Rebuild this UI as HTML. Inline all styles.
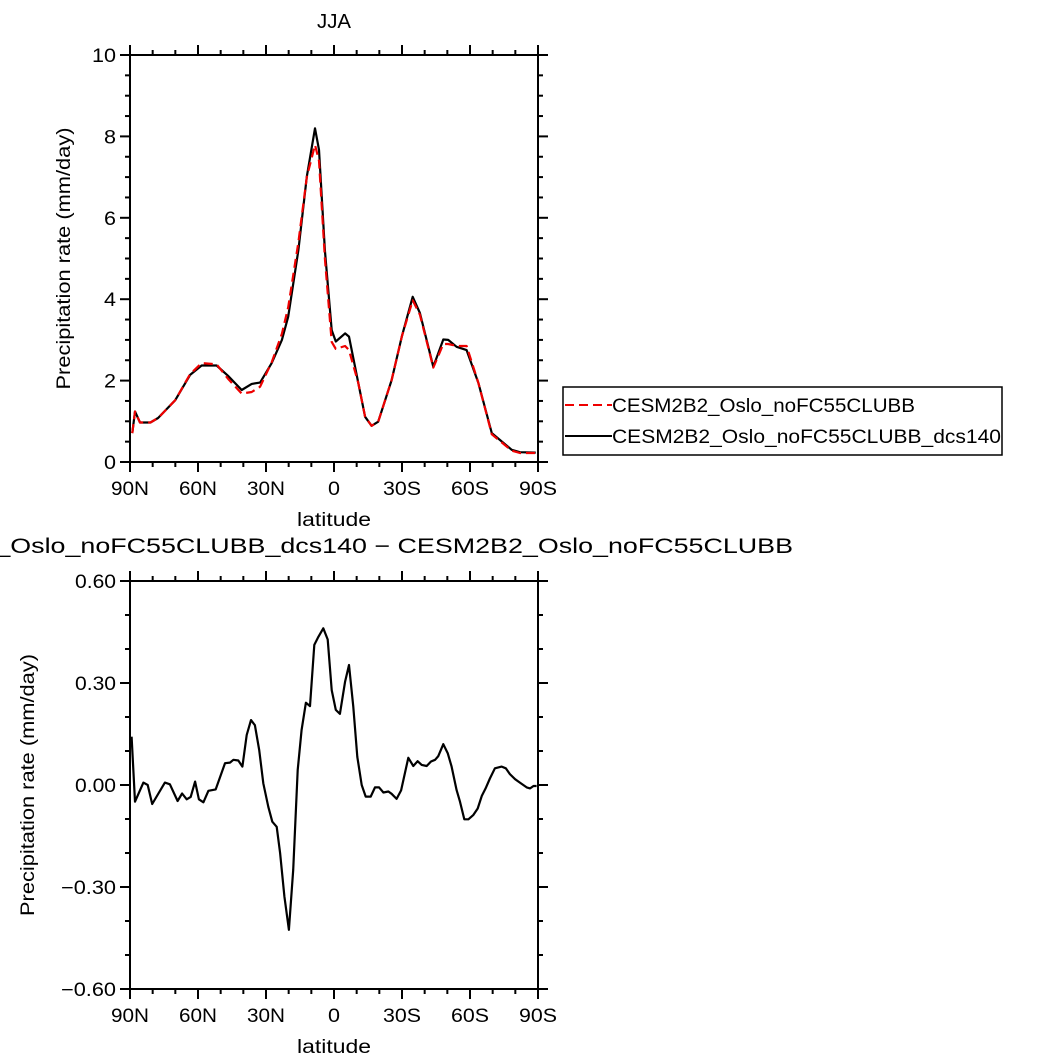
<!DOCTYPE html>
<html><head><meta charset="utf-8"><style>
html,body{margin:0;padding:0;background:#fff;}
svg{display:block;font-family:"Liberation Sans",sans-serif;}
</style></head><body>
<svg id="fig" width="1060" height="1063" viewBox="0 0 1060 1063" xmlns="http://www.w3.org/2000/svg">
<g id="topPanel"></g>
<g id="botPanel"></g>
</svg>
<script>
const latTop = [89,87.8,85.6,81,77.6,70,63.5,58.4,51.8,46.8,40.7,36.3,32.6,27.5,23,20.2,15.7,12,8.4,6.6,4,1,-0.8,-4.9,-6.6,-10.7,-13.7,-16.6,-19.5,-25.4,-29.9,-34.7,-37.9,-43.8,-48.2,-50.4,-54.1,-58.5,-63.7,-69.6,-78.4,-82,-89];
const blackVals = [0.71,1.24,0.97,0.97,1.08,1.52,2.14,2.37,2.37,2.12,1.77,1.92,1.95,2.43,3.0,3.57,5.21,7.01,8.2,7.67,5.2,3.24,2.96,3.16,3.08,1.94,1.11,0.89,0.99,2.01,3.08,4.06,3.66,2.34,3.01,3.0,2.83,2.75,1.94,0.71,0.3,0.24,0.23];
const redVals = [0.71,1.24,0.97,0.97,1.08,1.52,2.16,2.43,2.4,2.05,1.68,1.72,1.85,2.45,3.15,3.8,5.4,7.0,7.79,7.4,5.0,2.95,2.78,2.85,2.75,1.94,1.11,0.89,0.99,2.01,3.08,3.97,3.62,2.32,2.9,2.9,2.85,2.85,1.94,0.68,0.28,0.22,0.22];
const latBot = [89.3,87.8,84.1,82.2,80.2,74.6,72.4,69,67,65,63.2,61.3,59.6,57.6,55.4,52.2,48.1,45.9,44.4,42.2,40.4,38.5,36.6,34.9,33,31.2,29,27.2,25.3,23.8,21.9,19.9,18,16,14.3,12.4,10.6,8.7,6.9,4.7,2.8,1,-0.8,-2.6,-4.9,-6.6,-8.5,-10.3,-12.2,-14,-16.2,-18.1,-19.9,-21.8,-24,-25.4,-27.6,-29.6,-32.8,-35,-36.9,-38.7,-40.9,-42.8,-44.6,-46,-48.2,-50.2,-51.9,-54.1,-55.6,-57.5,-59.3,-61.5,-63.4,-65.2,-66.9,-68.8,-71,-74,-75.8,-77.6,-79.9,-82,-85,-86.5,-88,-89.4];
const diffVals = [0.142,-0.049,0.007,0,-0.056,0.007,0.002,-0.047,-0.025,-0.042,-0.035,0.01,-0.042,-0.051,-0.017,-0.013,0.064,0.066,0.074,0.072,0.054,0.147,0.191,0.176,0.103,0.005,-0.064,-0.108,-0.123,-0.2,-0.328,-0.426,-0.25,0.044,0.162,0.242,0.232,0.412,0.436,0.461,0.428,0.279,0.221,0.209,0.304,0.353,0.23,0.083,0,-0.034,-0.034,-0.007,-0.007,-0.022,-0.019,-0.026,-0.041,-0.016,0.08,0.056,0.07,0.059,0.056,0.069,0.074,0.085,0.12,0.093,0.054,-0.015,-0.049,-0.101,-0.101,-0.088,-0.069,-0.032,-0.01,0.019,0.049,0.054,0.049,0.032,0.017,0.007,-0.007,-0.01,-0.003,-0.003];
const xTickVals = [90,60,30,0,-30,-60,-90];
const xTickLabels = ["90N","60N","30N","0","30S","60S","90S"];
const topYTicks = [0,2,4,6,8,10];
const topYLabels = ["0","2","4","6","8","10"];
const botYTicks = [-0.6,-0.3,0,0.3,0.6];
const botYLabels = ["\u22120.60","\u22120.30","0.00","0.30","0.60"];

const NS="http://www.w3.org/2000/svg";
function mk(parent,tag,attrs,text){const e=document.createElementNS(NS,tag);for(const k in attrs)e.setAttribute(k,attrs[k]);if(text!==undefined)e.textContent=text;parent.appendChild(e);return e;}
function labelLen(s){let w=0;for(const c of s){w+= c==='.'?5 : c==='\u2212'?14 : (c==='N'||c==='S')?14 : 12;}return w;}

function panel(g,P,yMin,yMax,yTicks,yLabels,minorStep,yTitleX){
  const xs=lat=>P.x0+(90-lat)/180*(P.x1-P.x0);
  const ys=v=>P.y1-(v-yMin)/(yMax-yMin)*(P.y1-P.y0);
  const tk=mk(g,'g',{stroke:'#000','stroke-width':2});
  
  
  for(let lat=90;lat>=-90;lat-=10){
    const major=lat%30===0, L=major?10:5, x=xs(lat);
    mk(tk,'line',{x1:x,x2:x,y1:P.y1,y2:P.y1+L});
    mk(tk,'line',{x1:x,x2:x,y1:P.y0,y2:P.y0-L});
  }
  const n=Math.round((yMax-yMin)/minorStep);
  for(let i=0;i<=n;i++){
    const v=yMin+i*minorStep;const major=yTicks.some(t=>Math.abs(t-v)<1e-6);const L=major?10:5;const y=ys(v);
    mk(tk,'line',{x1:P.x0,x2:P.x0-L,y1:y,y2:y});
    mk(tk,'line',{x1:P.x1,x2:P.x1+L,y1:y,y2:y});
  }
  const fr=mk(g,'rect',{x:P.x0,y:P.y0,width:P.x1-P.x0,height:P.y1-P.y0,fill:'none',stroke:'#000','stroke-width':2});
  
  
  xTickVals.forEach((v,i)=>{
    const s=xTickLabels[i];
    const t=mk(g,'text',{x:xs(v),y:P.y1+33,'text-anchor':'middle','font-size':19,textLength:labelLen(s),lengthAdjust:'spacingAndGlyphs'},s);
    
    
  });
  yTicks.forEach((v,i)=>{
    const s=yLabels[i];
    const t=mk(g,'text',{x:P.x0-14,y:ys(v)+7,'text-anchor':'end','font-size':19,textLength:labelLen(s),lengthAdjust:'spacingAndGlyphs'},s);
    
    
  });
  const xt=mk(g,'text',{x:(P.x0+P.x1)/2,y:P.y1+64,'text-anchor':'middle','font-size':19,textLength:74,lengthAdjust:'spacingAndGlyphs'},'latitude');
  
  
  const cy=(P.y0+P.y1)/2;
  const yt=mk(g,'text',{x:yTitleX,y:cy,'text-anchor':'middle','font-size':19,textLength:262,lengthAdjust:'spacingAndGlyphs',transform:`rotate(-90 ${yTitleX} ${cy})`},'Precipitation rate (mm/day)');
  
  
  return {xs,ys};
}
function drawLine(g,lats,vals,ax,attrs,name){
  const d=lats.map((l,i)=>(i?'L':'M')+ax.xs(l).toFixed(1)+' '+ax.ys(vals[i]).toFixed(1)).join(' ');
  const p=mk(g,'path',Object.assign({d:d,fill:'none','stroke-linejoin':'round'},attrs));
  
  
}

const topG=document.getElementById('topPanel');
const t1=mk(topG,'text',{x:334,y:28,'text-anchor':'middle','font-size':20,textLength:34,lengthAdjust:'spacingAndGlyphs'},'JJA');


const axT=panel(topG,{x0:130,x1:538,y0:55,y1:462},0,10,topYTicks,topYLabels,0.5,70);
drawLine(topG,latTop,blackVals,axT,{stroke:'#000','stroke-width':2.2},'series-dcs140');
drawLine(topG,latTop,redVals,axT,{stroke:'#e00','stroke-width':2.2,'stroke-dasharray':'9 5'},'series-noFC55CLUBB');

const lg=mk(topG,'g',{});


mk(lg,'rect',{x:563,y:387,width:439,height:68,fill:'#fff',stroke:'#000','stroke-width':1.5});
mk(lg,'line',{x1:565,x2:612,y1:405,y2:405,stroke:'#e00','stroke-width':2,'stroke-dasharray':'9 5'});
const le1=mk(lg,'text',{x:612,y:412,'font-size':19,textLength:303,lengthAdjust:'spacingAndGlyphs'},'CESM2B2_Oslo_noFC55CLUBB');


mk(lg,'line',{x1:565,x2:612,y1:436,y2:436,stroke:'#000','stroke-width':2});
const le2=mk(lg,'text',{x:612,y:443,'font-size':19,textLength:389,lengthAdjust:'spacingAndGlyphs'},'CESM2B2_Oslo_noFC55CLUBB_dcs140');



const botG=document.getElementById('botPanel');
const t2=mk(botG,'text',{x:-130,y:553,'font-size':21,textLength:923,lengthAdjust:'spacingAndGlyphs'},'CESM2B2_Oslo_noFC55CLUBB_dcs140 \u2212 CESM2B2_Oslo_noFC55CLUBB');


const axB=panel(botG,{x0:130,x1:538,y0:581,y1:989},-0.6,0.6,botYTicks,botYLabels,0.1,34);
drawLine(botG,latBot,diffVals,axB,{stroke:'#000','stroke-width':2.2},'series-difference');
</script>
</body></html>
